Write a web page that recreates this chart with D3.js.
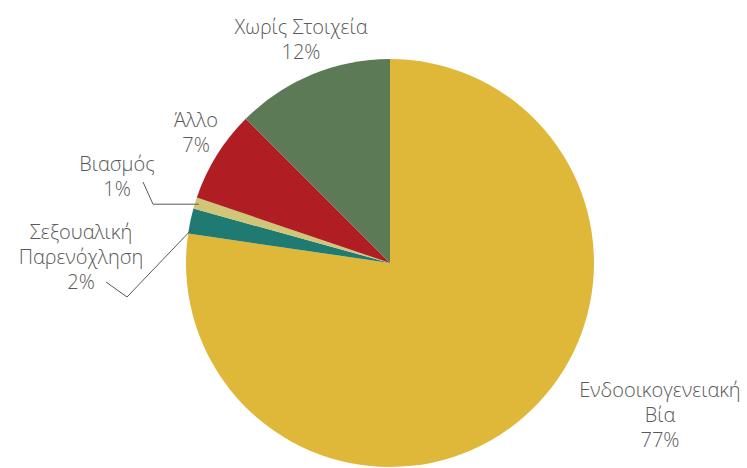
<!DOCTYPE html>
<html>
<head>
<meta charset="utf-8">
<script src="https://cdn.jsdelivr.net/npm/d3@7"></script>
<style>
  body { margin: 0; background: #fff; }
  text { font-family: "Open Sans", "Noto Sans", sans-serif; font-weight: 300; fill: #595959; }
</style>
</head>
<body>
<div id="chart"></div>
<script>
// slices, clockwise from 12 o'clock
var categories = ["Ενδοοικογενειακή Βία", "Σεξουαλική Παρενόχληση", "Βιασμός", "Άλλο", "Χωρίς Στοιχεία"];
var values = [77.3, 2.0, 0.9, 7.3, 12.5];
var percentLabels = ["77%", "2%", "1%", "7%", "12%"];
var colors = ["#dfb83a", "#1f7a72", "#cfc777", "#b01e24", "#5b7a55"];

// label lines (words split as in the original)
var labelLines = [
    ["Ενδοοικογενειακή", "Βία"],
    ["Σεξουαλική", "Παρενόχληση"],
    ["Βιασμός"],
    ["Άλλο"],
    ["Χωρίς Στοιχεία"]
];

var width = 747, height = 468;
var cx = 390, cy = 263, radius = 204;

var svg = d3.select("#chart").append("svg")
    .attr("width", width)
    .attr("height", height);

var pie = d3.pie().sort(null).value(function(d) { return d; });
var arcs = pie(values);
var arc = d3.arc().innerRadius(0).outerRadius(radius);

var g = svg.append("g").attr("transform", "translate(" + cx + "," + cy + ")");

g.selectAll("path.slice")
    .data(arcs)
    .enter()
    .append("path")
    .attr("class", "slice")
    .attr("d", arc)
    .attr("fill", function(d, i) { return colors[i]; });

// label anchor positions (text block centre x, first line centre y)
var labelPos = [
    {x: 660, y: 390},
    {x: 81, y: 232},
    {x: 117, y: 164},
    {x: 196, y: 120},
    {x: 301, y: 27}
];
var lineGap = 25;

labelPos.forEach(function(p, i) {
    var lines = labelLines[i].concat([percentLabels[i]]);
    var t = svg.append("text")
        .attr("text-anchor", "middle")
        .attr("font-size", 20);
    lines.forEach(function(s, j) {
        t.append("tspan")
            .attr("x", p.x)
            .attr("y", p.y + j * lineGap)
            .attr("dy", "0.35em")
            .text(s);
    });
});

// leader lines for the two thin slices, ending on the slice
function edgePoint(a, r) {
    var m = (a.startAngle + a.endAngle) / 2;
    return [cx + Math.sin(m) * r, cy - Math.cos(m) * r];
}
var line = d3.line();
var pBias = edgePoint(arcs[2], radius - 4);
var pSex = edgePoint(arcs[1], radius - 8);
svg.append("path")
    .attr("d", line([[143, 182], [153, pBias[1]], pBias]))
    .attr("fill", "none")
    .attr("stroke", "#595959")
    .attr("stroke-width", 1);
svg.append("path")
    .attr("d", line([[106, 282], [127, 297], pSex]))
    .attr("fill", "none")
    .attr("stroke", "#595959")
    .attr("stroke-width", 1);
</script>
</body>
</html>
